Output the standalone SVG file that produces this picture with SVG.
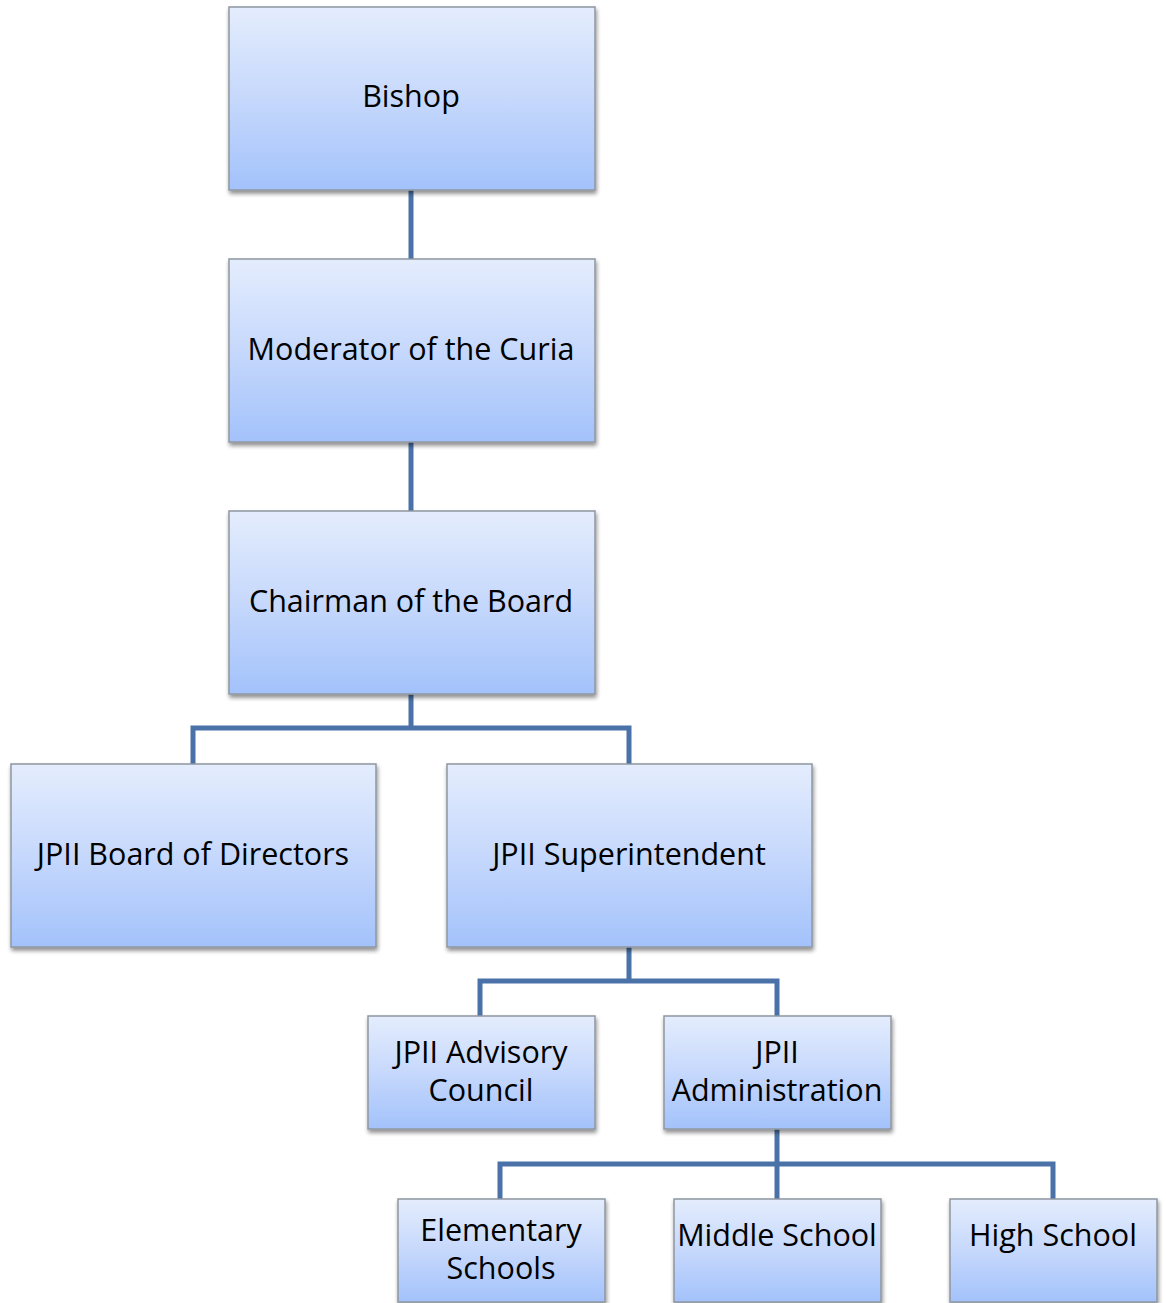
<svg xmlns="http://www.w3.org/2000/svg" width="1166" height="1303" viewBox="0 0 1166 1303">
<defs>
<linearGradient id="g" x1="0" y1="0" x2="0" y2="1">
<stop offset="0" stop-color="#e4edfd"/>
<stop offset="0.5" stop-color="#c6d8fc"/>
<stop offset="1" stop-color="#a3c2fb"/>
</linearGradient>
<filter id="sh" x="-10%" y="-10%" width="120%" height="130%">
<feGaussianBlur in="SourceAlpha" stdDeviation="2"/>
<feOffset dx="1" dy="3" result="b"/>
<feComponentTransfer><feFuncA type="linear" slope="0.45"/></feComponentTransfer>
<feMerge><feMergeNode/><feMergeNode in="SourceGraphic"/></feMerge>
</filter>
</defs>
<style>
.box{fill:url(#g);stroke:#8f96a0;stroke-width:1.5;filter:url(#sh)}
.t{font-family:"Open Sans","Liberation Sans",sans-serif;font-size:30.5px;fill:#000;text-anchor:middle}
.c{fill:none;stroke:#4a72a8;stroke-width:5}
</style>
<g id="connectors">
<path class="c" d="M411 190V259"/>
<path class="c" d="M411 442V511"/>
<path class="c" d="M411 694V728M193 764V728H629V764"/>
<path class="c" d="M629 947V981M480 1016V981H777V1016"/>
<path class="c" d="M777 1129V1199M500 1199V1164H1053V1199"/>
</g>
<g id="bishop"><rect class="box" x="229" y="7" width="366" height="183"/><text class="t" x="411" y="107">Bishop</text></g>
<g id="moderator"><rect class="box" x="229" y="259" width="366" height="183"/><text class="t" x="411" y="360">Moderator of the Curia</text></g>
<g id="chairman"><rect class="box" x="229" y="511" width="366" height="183"/><text class="t" x="411" y="612">Chairman of the Board</text></g>
<g id="board"><rect class="box" x="11" y="764" width="365" height="183"/><text class="t" x="193" y="865">JPII Board of Directors</text></g>
<g id="superintendent"><rect class="box" x="447" y="764" width="365" height="183"/><text class="t" x="629" y="865">JPII Superintendent</text></g>
<g id="advisory"><rect class="box" x="368" y="1016" width="227" height="113"/><text class="t" x="481" y="1063">JPII Advisory</text><text class="t" x="481" y="1101">Council</text></g>
<g id="administration"><rect class="box" x="664" y="1016" width="227" height="113"/><text class="t" x="777" y="1063">JPII</text><text class="t" x="777" y="1101">Administration</text></g>
<g id="elementary"><rect class="box" x="398" y="1199" width="207" height="103"/><text class="t" x="501" y="1241">Elementary</text><text class="t" x="501" y="1279">Schools</text></g>
<g id="middle"><rect class="box" x="674" y="1199" width="207" height="103"/><text class="t" x="777" y="1246">Middle School</text></g>
<g id="high"><rect class="box" x="950" y="1199" width="207" height="103"/><text class="t" x="1053" y="1246">High School</text></g>
</svg>
